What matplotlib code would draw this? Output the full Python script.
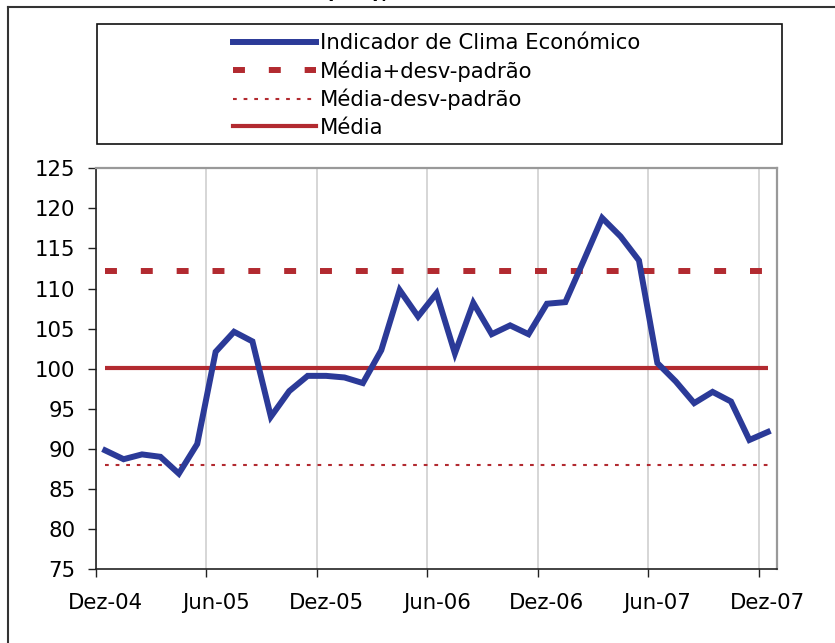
import numpy as np
import matplotlib.pyplot as plt
from matplotlib.patches import Rectangle
from matplotlib.lines import Line2D

# Indicador de Clima Económico, monthly, Dez-04 .. Dez-07
ice = [89.8, 88.7, 89.3, 89.0, 86.9, 90.6, 102.1, 104.6, 103.4, 94.0,
       97.2, 99.1, 99.1, 98.9, 98.2, 102.3, 109.8, 106.5, 109.4, 101.9,
       108.2, 104.3, 105.4, 104.3, 108.1, 108.3, 113.5, 118.8, 116.5, 113.5,
       100.7, 98.4, 95.7, 97.1, 95.9, 91.1, 92.1]
media = 100.05
desvio = 12.1

tick_labels = ["Dez-04", "Jun-05", "Dez-05", "Jun-06", "Dez-06", "Jun-07", "Dez-07"]
yticks = [75, 80, 85, 90, 95, 100, 105, 110, 115, 120, 125]

blue = "#2B3A98"
red = "#B22A30"
font = "DejaVu Sans"
fs = 15.3

plt.rcParams["font.family"] = font

W, H = 835, 643
fig = plt.figure(figsize=(W / 100, H / 100), dpi=100)

# axes placed in pixel coordinates of the reference
left, right, top, bottom = 96, 777, 168.3, 569
ax = fig.add_axes([left / W, 1 - bottom / H, (right - left) / W, (bottom - top) / H])

n = len(ice)
x = np.arange(n) + 0.5  # points sit in the middle of each month
up = [media + desvio] * n
low = [media - desvio] * n
mid = [media] * n

ax.plot(x, mid, color=red, lw=3.0, solid_capstyle="butt", zorder=2)
ax.plot(x, up, color=red, lw=4.3, dashes=(2, 4.0), dash_capstyle="butt", zorder=2)
ax.plot(x, low, color=red, lw=1.5, dashes=(1.8, 3.3), dash_capstyle="butt", zorder=2)
ax.plot(x, ice, color=blue, lw=4.3, solid_joinstyle="miter", zorder=3)

ax.set_xlim(0, n)
ax.set_ylim(75, 125)

# month boundaries every 6 months carry the tick marks and grid
ax.set_xticks(np.arange(0, n, 6))
ax.set_xticklabels([])
ax.set_xticks(np.arange(0, n, 6) + 0.5, minor=True)
ax.set_xticklabels(tick_labels, minor=True, fontsize=fs)
ax.tick_params(axis="x", which="major", direction="out", length=6, width=1, color="#222222")
ax.tick_params(axis="x", which="minor", length=0, pad=17)
ax.xaxis.grid(True, which="major", color="#D3D3D3", lw=1.3)
ax.set_axisbelow(True)

ax.set_yticks(yticks)
ax.set_yticklabels([str(v) for v in yticks], fontsize=fs)
ax.tick_params(axis="y", direction="out", length=6, width=1, color="#222222", pad=9)

for s in ["left", "bottom"]:
    ax.spines[s].set_color("#222222")
    ax.spines[s].set_linewidth(1.2)
for s in ["top", "right"]:
    ax.spines[s].set_color("#999999")
    ax.spines[s].set_linewidth(1.6)

# legend box
lx0, lx1, ly0, ly1 = 97, 782, 24, 144
fig.patches.append(Rectangle((lx0 / W, 1 - ly1 / H), (lx1 - lx0) / W, (ly1 - ly0) / H,
                             transform=fig.transFigure, fill=True, facecolor="white",
                             edgecolor="#111111", lw=1.2))
handles = [
    Line2D([], [], color=blue, lw=4.3),
    Line2D([], [], color=red, lw=4.3, dashes=(2, 4.0), dash_capstyle="butt"),
    Line2D([], [], color=red, lw=1.5, dashes=(1.8, 3.3), dash_capstyle="butt"),
    Line2D([], [], color=red, lw=3.0),
]
labels = ["Indicador de Clima Económico", "Média+desv-padrão", "Média-desv-padrão", "Média"]
fig.legend(handles, labels, loc="upper left", bbox_to_anchor=(233 / W, 1 - 33 / H),
           frameon=False, fontsize=fs, handlelength=3.9, handletextpad=0.2,
           labelspacing=0.34, borderpad=0, borderaxespad=0)

# outer chart frame
fig.add_artist(Line2D([8 / W, 8 / W], [0, 1 - 7 / H], transform=fig.transFigure,
                      color="#333333", lw=1.5))
fig.add_artist(Line2D([8 / W, 1], [1 - 7 / H, 1 - 7 / H], transform=fig.transFigure,
                      color="#333333", lw=1.5))

# title sits above the visible area, only its bottom shows
fig.text(357 / W, 1.0 + 2 / H, "(ICE),", fontsize=fs, fontweight="bold", ha="center", va="baseline")

fig.savefig("out.png", dpi=100)
